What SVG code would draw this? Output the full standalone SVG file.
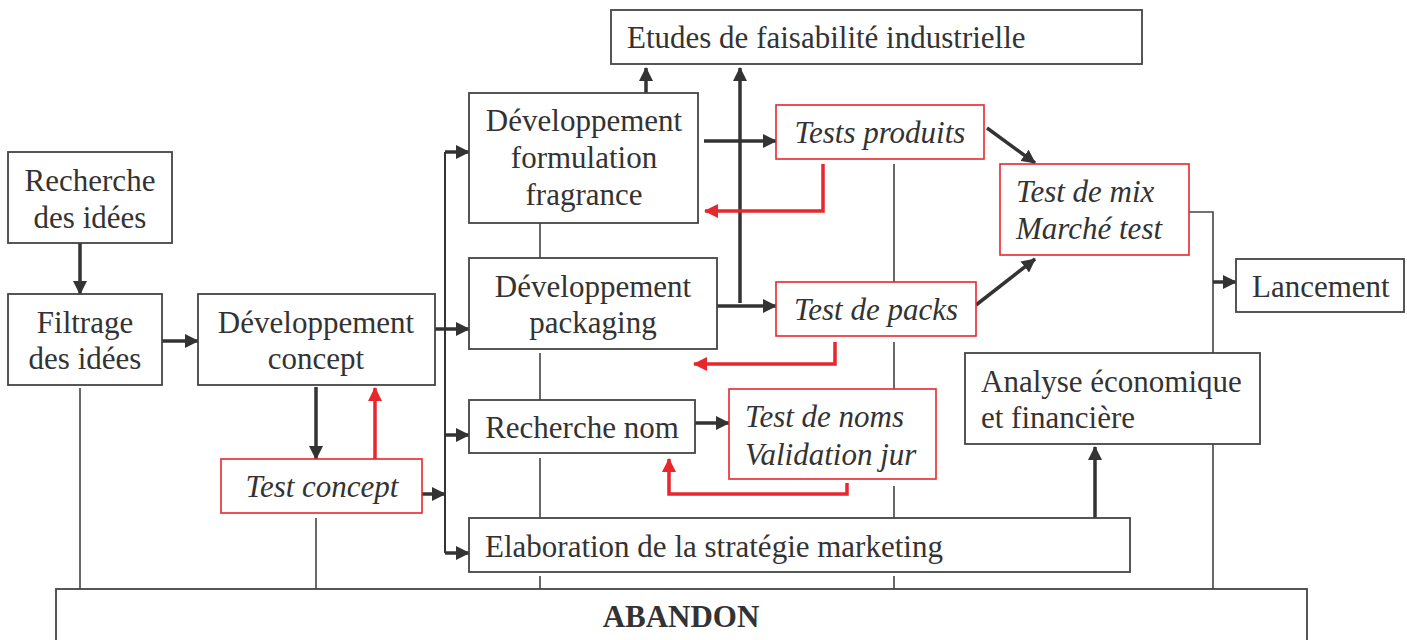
<svg xmlns="http://www.w3.org/2000/svg" width="1407" height="640" viewBox="0 0 1407 640">
  <style>
    .box { fill: #ffffff; stroke: #444444; stroke-width: 1.8; }
    .rbox { fill: #ffffff; stroke: #e8262d; stroke-width: 1.6; }
    text { font-family: "Liberation Serif", "Times New Roman", serif; font-size: 31px; fill: #333333; }
    .it { font-style: italic; }
    .b { font-weight: bold; }
    .mid { text-anchor: middle; }
    .arr { fill: none; stroke: #333333; stroke-width: 3.5; marker-end: url(#ah); }
    .rarr { fill: none; stroke: #e8262d; stroke-width: 3.5; marker-end: url(#ahr); }
    .line { fill: none; stroke: #444444; stroke-width: 1.6; }
    .trunk { fill: none; stroke: #333333; stroke-width: 2; }
    .thick { fill: none; stroke: #333333; stroke-width: 3.5; }
  </style>
  <defs>
    <marker id="ah" markerUnits="userSpaceOnUse" markerWidth="14" markerHeight="14" viewBox="0 0 14 14" refX="13" refY="7" orient="auto">
      <path d="M0,0 L14,7 L0,14 z" fill="#333333"/>
    </marker>
    <marker id="ahr" markerUnits="userSpaceOnUse" markerWidth="14" markerHeight="14" viewBox="0 0 14 14" refX="13" refY="7" orient="auto">
      <path d="M0,0 L14,7 L0,14 z" fill="#e8262d"/>
    </marker>
  </defs>

  <!-- connectors -->
  <g id="connectors">
    <!-- thin links down to the abandon bar -->
    <path class="line" d="M80,388 V590"/>
    <path class="line" d="M316,518 V590"/>
    <path class="line" d="M540,223 V258 M540,353 V400 M540,458 V518 M540,576 V590"/>
    <path class="line" d="M894,164 V282 M894,342 V389 M894,486 V518 M894,576 V590"/>
    <path class="line" d="M1189,212 H1213 V353 M1213,444 V590"/>

    <!-- main flow -->
    <path class="arr" d="M80,243 V294"/>
    <path class="arr" d="M162,341 H198"/>
    <path class="arr" d="M435,329 H469"/>
    <path class="trunk" d="M445,152 V553"/>
    <path class="arr" d="M445,152 H469"/>
    <path class="arr" d="M445,435 H469"/>
    <path class="arr" d="M445,553 H469"/>
    <path class="arr" d="M422,494 H445"/>
    <path class="arr" d="M316,387 V459"/>
    <path class="rarr" d="M375,459 V388"/>

    <path class="arr" d="M646,93 V68"/>
    <path class="arr" d="M740,303 V68"/>
    <path class="arr" d="M704,141 H776"/>
    <path class="rarr" d="M823,164 V211 H705"/>
    <path class="arr" d="M717,306 H776"/>
    <path class="rarr" d="M835,342 V364 H694"/>
    <path class="arr" d="M695,423 H729"/>
    <path class="rarr" d="M847,483 V494 H669 V459"/>

    <path class="arr" d="M987,128 L1035,163"/>
    <path class="arr" d="M976,305 L1035,259"/>
    <path class="arr" d="M1213,282 H1236"/>
    <path class="arr" d="M1095,518 V447"/>
  </g>

  <!-- nodes -->
  <g id="recherche-idees">
    <rect class="box" x="8" y="152" width="164" height="91"/>
    <text class="mid" x="90" y="191">Recherche</text>
    <text class="mid" x="90" y="228">des idées</text>
  </g>
  <g id="filtrage-idees">
    <rect class="box" x="8" y="294" width="154" height="91"/>
    <text class="mid" x="85" y="333">Filtrage</text>
    <text class="mid" x="85" y="369">des idées</text>
  </g>
  <g id="dev-concept">
    <rect class="box" x="198" y="294" width="237" height="91"/>
    <text class="mid" x="316" y="333">Développement</text>
    <text class="mid" x="316" y="369">concept</text>
  </g>
  <g id="test-concept">
    <rect class="rbox" x="221" y="459" width="201" height="54"/>
    <text class="mid it" x="322" y="497">Test concept</text>
  </g>
  <g id="etudes-faisabilite">
    <rect class="box" x="611" y="10" width="531" height="54"/>
    <text x="627" y="48">Etudes de faisabilité industrielle</text>
  </g>
  <g id="dev-formulation">
    <rect class="box" x="469" y="93" width="229" height="130"/>
    <text class="mid" x="584" y="131">Développement</text>
    <text class="mid" x="584" y="168">formulation</text>
    <text class="mid" x="584" y="205">fragrance</text>
  </g>
  <g id="tests-produits">
    <rect class="rbox" x="776" y="105" width="208" height="54"/>
    <text class="mid it" x="880" y="143">Tests produits</text>
  </g>
  <g id="test-mix">
    <rect class="rbox" x="1000" y="164" width="189" height="91"/>
    <text class="it" x="1016" y="202">Test de mix</text>
    <text class="it" x="1016" y="239">Marché test</text>
  </g>
  <g id="dev-packaging">
    <rect class="box" x="469" y="258" width="248" height="91"/>
    <text class="mid" x="593" y="297">Développement</text>
    <text class="mid" x="593" y="333">packaging</text>
  </g>
  <g id="test-packs">
    <rect class="rbox" x="776" y="282" width="200" height="54"/>
    <text class="mid it" x="876" y="320">Test de packs</text>
  </g>
  <g id="lancement">
    <rect class="box" x="1236" y="259" width="168" height="53"/>
    <text x="1252" y="297">Lancement</text>
  </g>
  <g id="analyse-economique">
    <rect class="box" x="965" y="353" width="295" height="91"/>
    <text x="981" y="392">Analyse économique</text>
    <text x="981" y="428">et financière</text>
  </g>
  <g id="recherche-nom">
    <rect class="box" x="469" y="400" width="226" height="53"/>
    <text class="mid" x="582" y="438">Recherche nom</text>
  </g>
  <g id="test-noms">
    <rect class="rbox" x="729" y="389" width="207" height="90"/>
    <text class="it" x="745" y="427">Test de noms</text>
    <text class="it" x="745" y="465">Validation jur</text>
  </g>
  <g id="strategie-marketing">
    <rect class="box" x="469" y="518" width="661" height="54"/>
    <text x="485" y="557">Elaboration de la stratégie marketing</text>
  </g>
  <g id="abandon">
    <rect class="box" x="56" y="589" width="1251" height="70"/>
    <text class="b mid" x="681" y="627">ABANDON</text>
  </g>
</svg>
